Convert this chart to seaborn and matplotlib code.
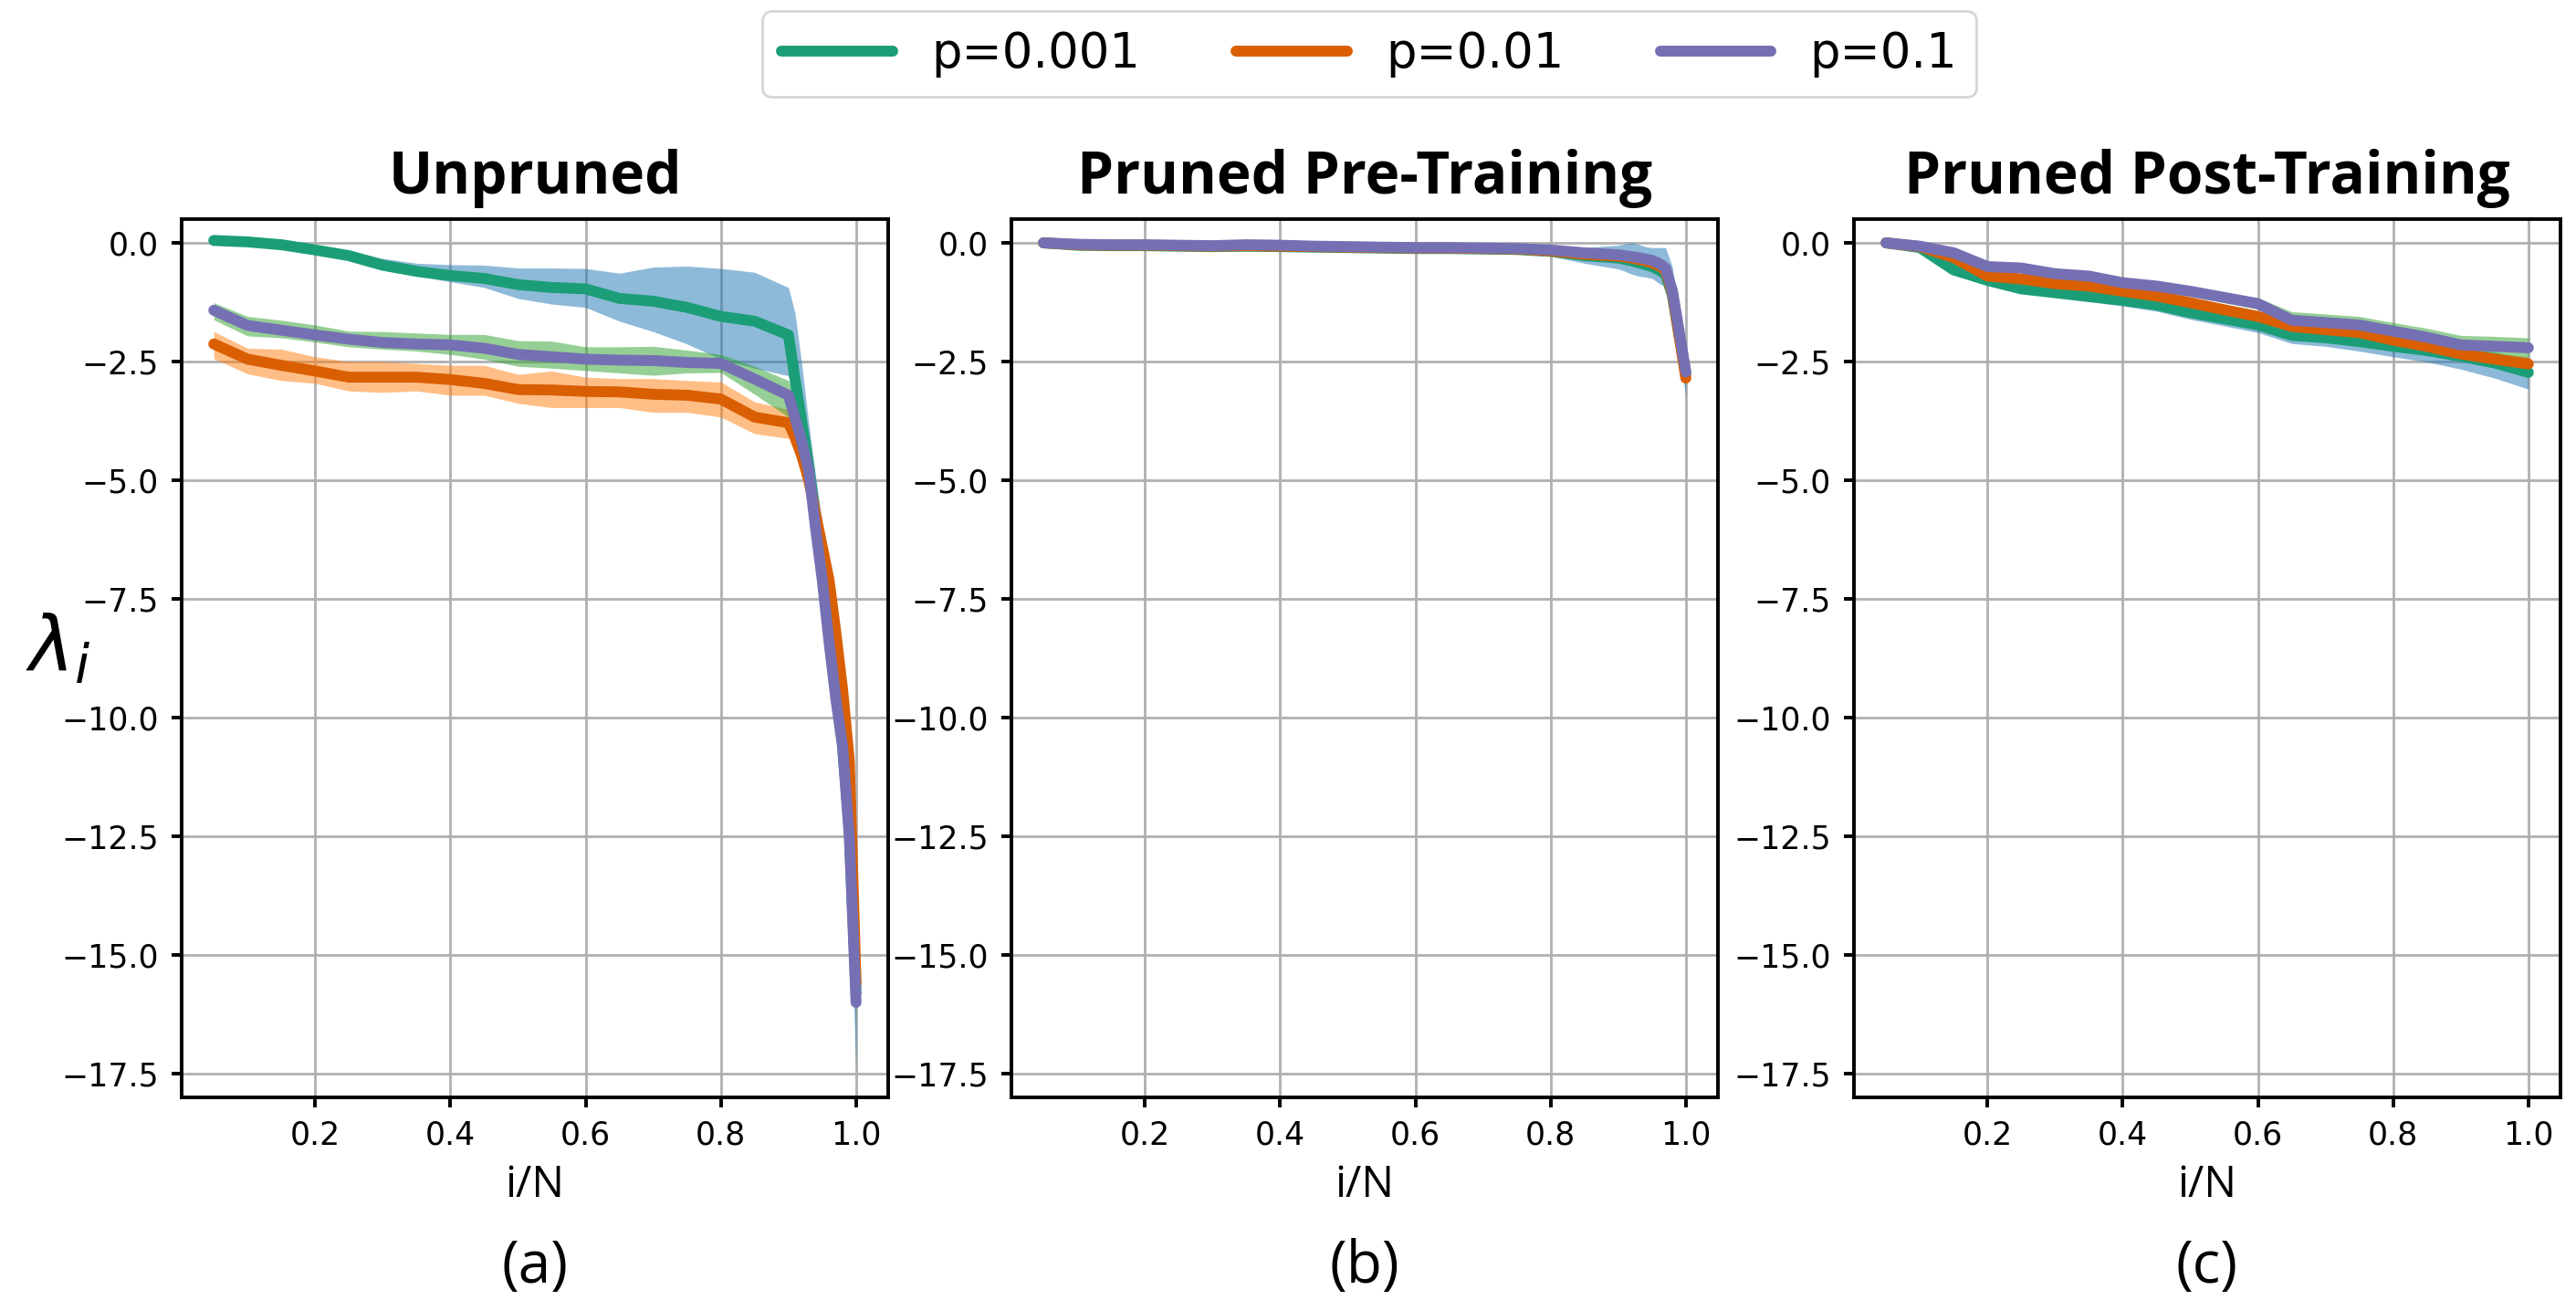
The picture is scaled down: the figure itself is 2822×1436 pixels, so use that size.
import matplotlib
matplotlib.use("Agg")
import matplotlib.pyplot as plt
from matplotlib.ticker import MultipleLocator
import seaborn as sns

# x positions (i/N); panels (a) and (b) are sampled densely near the end
x_dense = [0.05, 0.10, 0.15, 0.20, 0.25, 0.30, 0.35, 0.40, 0.45, 0.50, 0.55, 0.60, 0.65, 0.70,
           0.75, 0.80, 0.85, 0.90, 0.91, 0.92, 0.93, 0.94, 0.95, 0.96, 0.97, 0.98, 0.99, 1.00]
x_coarse = [0.05, 0.10, 0.15, 0.20, 0.25, 0.30, 0.35, 0.40, 0.45, 0.50, 0.55, 0.60, 0.65, 0.70,
            0.75, 0.80, 0.85, 0.90, 0.95, 1.00]

labels = ["p=0.001", "p=0.01", "p=0.1"]
titles = ["Unpruned", "Pruned Pre-Training", "Pruned Post-Training"]
panel_tags = ["(a)", "(b)", "(c)"]

# ---- (a) Unpruned ----
a_p001 = [0.05, 0.02, -0.04, -0.15, -0.27, -0.47, -0.60, -0.69, -0.75, -0.88, -0.94, -0.97, -1.17, -1.23,
          -1.36, -1.55, -1.65, -1.94, -2.90, -3.80, -4.70, -5.80, -7.00, -8.20, -9.40, -10.60, -12.40, -15.80]
a_p001_lo = [0.00, -0.03, -0.10, -0.22, -0.38, -0.58, -0.70, -0.82, -0.94, -1.17, -1.29, -1.36, -1.65, -1.87,
             -2.13, -2.45, -2.64, -2.80, -3.40, -4.30, -5.20, -6.40, -7.60, -8.90, -10.10, -11.30, -13.00, -17.50]
a_p001_hi = [0.08, 0.05, 0.00, -0.10, -0.16, -0.33, -0.43, -0.46, -0.47, -0.53, -0.53, -0.54, -0.64, -0.51,
             -0.49, -0.54, -0.62, -0.94, -1.50, -2.60, -3.80, -4.90, -5.90, -7.00, -8.00, -9.10, -10.30, -15.30]

a_p01 = [-2.13, -2.45, -2.58, -2.70, -2.83, -2.83, -2.83, -2.88, -2.96, -3.09, -3.10, -3.13, -3.14, -3.19,
         -3.21, -3.29, -3.67, -3.79, -4.10, -4.50, -5.00, -5.70, -6.40, -7.10, -8.20, -9.40, -10.90, -15.60]
a_p01_lo = [-2.44, -2.76, -2.90, -2.96, -3.12, -3.15, -3.12, -3.21, -3.21, -3.38, -3.47, -3.47, -3.47, -3.57,
            -3.57, -3.67, -4.02, -4.12, -4.45, -4.85, -5.35, -6.05, -6.75, -7.45, -8.55, -9.75, -11.30, -16.00]
a_p01_hi = [-1.87, -2.22, -2.24, -2.40, -2.50, -2.50, -2.54, -2.58, -2.58, -2.77, -2.70, -2.83, -2.86, -2.86,
            -2.90, -2.93, -3.35, -3.51, -3.80, -4.20, -4.70, -5.40, -6.10, -6.80, -7.90, -9.00, -10.50, -15.20]

a_p1 = [-1.42, -1.74, -1.84, -1.94, -2.03, -2.10, -2.13, -2.15, -2.22, -2.35, -2.40, -2.45, -2.47, -2.48,
        -2.52, -2.54, -2.87, -3.21, -3.70, -4.20, -4.80, -6.00, -7.10, -8.40, -9.60, -10.60, -12.50, -16.00]
a_p1_lo = [-1.62, -1.96, -2.00, -2.09, -2.19, -2.24, -2.28, -2.35, -2.45, -2.60, -2.64, -2.69, -2.74, -2.79,
           -2.74, -2.73, -3.19, -3.67, -4.10, -4.60, -5.20, -6.40, -7.50, -8.80, -10.00, -11.00, -12.90, -16.40]
a_p1_hi = [-1.26, -1.55, -1.63, -1.73, -1.86, -1.87, -1.90, -1.93, -1.93, -2.06, -2.07, -2.19, -2.19, -2.18,
           -2.26, -2.35, -2.60, -2.90, -3.30, -3.80, -4.40, -5.60, -6.70, -8.00, -9.20, -10.20, -12.10, -15.60]

# ---- (b) Pruned Pre-Training ----
b_p001 = [0.00, -0.05, -0.06, -0.06, -0.07, -0.08, -0.07, -0.08, -0.09, -0.10, -0.11, -0.12, -0.12, -0.13,
          -0.14, -0.18, -0.27, -0.32, -0.35, -0.38, -0.42, -0.46, -0.50, -0.57, -0.66, -1.10, -1.95, -2.75]
b_p001_lo = [-0.03, -0.08, -0.09, -0.09, -0.10, -0.11, -0.10, -0.11, -0.12, -0.14, -0.15, -0.17, -0.18, -0.20,
             -0.22, -0.28, -0.43, -0.55, -0.60, -0.66, -0.70, -0.72, -0.75, -0.85, -0.93, -1.50, -2.30, -3.25]
b_p001_hi = [0.03, -0.02, -0.03, -0.03, -0.04, -0.05, -0.04, -0.05, -0.06, -0.06, -0.07, -0.07, -0.06, -0.07,
             -0.07, -0.08, -0.10, -0.05, -0.02, 0.00, -0.03, -0.08, -0.10, -0.10, -0.10, -0.50, -1.50, -2.50]

b_p01 = [0.00, -0.04, -0.05, -0.05, -0.06, -0.07, -0.06, -0.07, -0.08, -0.09, -0.10, -0.11, -0.11, -0.12,
         -0.13, -0.17, -0.24, -0.28, -0.30, -0.32, -0.35, -0.38, -0.42, -0.48, -0.58, -1.05, -1.95, -2.85]
b_p01_lo = [-0.03, -0.07, -0.08, -0.08, -0.09, -0.10, -0.09, -0.10, -0.11, -0.12, -0.13, -0.14, -0.14, -0.15,
            -0.17, -0.22, -0.30, -0.36, -0.38, -0.40, -0.44, -0.48, -0.53, -0.60, -0.70, -1.20, -2.10, -2.95]
b_p01_hi = [0.03, -0.01, -0.02, -0.02, -0.03, -0.04, -0.03, -0.04, -0.05, -0.06, -0.07, -0.08, -0.08, -0.09,
            -0.09, -0.12, -0.18, -0.20, -0.22, -0.24, -0.26, -0.28, -0.31, -0.36, -0.46, -0.90, -1.80, -2.75]

b_p1 = [0.00, -0.03, -0.04, -0.04, -0.05, -0.06, -0.04, -0.05, -0.07, -0.08, -0.09, -0.10, -0.10, -0.11,
        -0.12, -0.15, -0.21, -0.25, -0.27, -0.29, -0.31, -0.34, -0.37, -0.43, -0.53, -1.00, -1.85, -2.72]
b_p1_lo = [-0.03, -0.06, -0.07, -0.07, -0.08, -0.09, -0.07, -0.08, -0.10, -0.11, -0.12, -0.13, -0.13, -0.14,
           -0.16, -0.20, -0.28, -0.33, -0.36, -0.38, -0.41, -0.45, -0.49, -0.56, -0.66, -1.15, -2.00, -2.85]
b_p1_hi = [0.03, 0.00, -0.01, -0.01, -0.02, -0.03, -0.01, -0.02, -0.04, -0.05, -0.06, -0.07, -0.07, -0.08,
           -0.08, -0.10, -0.14, -0.17, -0.18, -0.20, -0.21, -0.22, -0.25, -0.30, -0.38, -0.85, -1.70, -2.60]

# ---- (c) Pruned Post-Training ----
c_p001 = [0.00, -0.10, -0.57, -0.79, -0.97, -1.05, -1.13, -1.21, -1.31, -1.47, -1.60, -1.73, -1.95, -2.00,
          -2.08, -2.18, -2.27, -2.39, -2.53, -2.73]
c_p001_lo = [-0.03, -0.14, -0.63, -0.87, -1.06, -1.15, -1.24, -1.33, -1.44, -1.61, -1.75, -1.89, -2.12, -2.18,
             -2.28, -2.40, -2.51, -2.66, -2.85, -3.08]
c_p001_hi = [0.03, -0.06, -0.50, -0.72, -0.90, -0.98, -1.05, -1.12, -1.20, -1.35, -1.47, -1.60, -1.80, -1.85,
             -1.92, -2.02, -2.10, -2.20, -2.30, -2.45]

c_p01 = [0.00, -0.08, -0.31, -0.70, -0.76, -0.86, -0.91, -1.02, -1.12, -1.26, -1.41, -1.55, -1.76, -1.83,
         -1.89, -2.05, -2.18, -2.34, -2.45, -2.55]
c_p01_lo = [-0.03, -0.12, -0.37, -0.76, -0.83, -0.93, -0.99, -1.10, -1.20, -1.34, -1.50, -1.64, -1.85, -1.93,
            -2.00, -2.16, -2.30, -2.46, -2.58, -2.70]
c_p01_hi = [0.03, -0.04, -0.25, -0.64, -0.69, -0.79, -0.83, -0.94, -1.04, -1.18, -1.32, -1.46, -1.67, -1.73,
            -1.78, -1.94, -2.06, -2.22, -2.32, -2.40]

c_p1 = [0.00, -0.07, -0.21, -0.50, -0.53, -0.65, -0.70, -0.84, -0.91, -1.02, -1.15, -1.28, -1.63, -1.68,
        -1.73, -1.86, -1.99, -2.15, -2.18, -2.21]
c_p1_lo = [-0.03, -0.11, -0.27, -0.57, -0.61, -0.73, -0.79, -0.93, -1.01, -1.12, -1.26, -1.40, -1.76, -1.82,
           -1.88, -2.02, -2.16, -2.33, -2.38, -2.42]
c_p1_hi = [0.03, -0.03, -0.15, -0.43, -0.45, -0.57, -0.61, -0.75, -0.81, -0.92, -1.04, -1.16, -1.45, -1.50,
           -1.55, -1.68, -1.80, -1.95, -1.97, -2.00]

panels = [
    (x_dense, [(a_p001, a_p001_lo, a_p001_hi), (a_p01, a_p01_lo, a_p01_hi), (a_p1, a_p1_lo, a_p1_hi)]),
    (x_dense, [(b_p001, b_p001_lo, b_p001_hi), (b_p01, b_p01_lo, b_p01_hi), (b_p1, b_p1_lo, b_p1_hi)]),
    (x_coarse, [(c_p001, c_p001_lo, c_p001_hi), (c_p01, c_p01_lo, c_p01_hi), (c_p1, c_p1_lo, c_p1_hi)]),
]

sns.set_theme(style="ticks", rc={"text.color": "black", "axes.labelcolor": "black",
                                 "xtick.color": "black", "ytick.color": "black"})
plt.rcParams['font.family'] = ['DejaVu Sans']

line_colors = sns.color_palette("Dark2")[:3]
band_colors = sns.color_palette("tab10")[:3]

W, H = 2822, 1436
fig, axes = plt.subplots(1, 3, figsize=(W / 200, H / 200), dpi=200)

lefts = [199, 1108, 2031]
ax_w, ax_top, ax_bot = 774, 240, 1202

for i, ax in enumerate(axes):
    ax.set_position([lefts[i] / W, 1 - ax_bot / H, ax_w / W, (ax_bot - ax_top) / H])
    xs, series = panels[i]
    for j, (mean, lo, hi) in enumerate(series):
        ax.fill_between(xs, lo, hi, color=band_colors[j], alpha=0.5, linewidth=0, zorder=2)
    for j, (mean, lo, hi) in enumerate(series):
        sns.lineplot(x=xs, y=mean, ax=ax, color=line_colors[j], linewidth=4.3,
                     label=labels[j], legend=False, zorder=3)

    ax.set_ylim(-18.0, 0.5)
    ax.set_xlim(0.0025, 1.0475)
    ax.yaxis.set_major_locator(MultipleLocator(2.5))
    ax.xaxis.set_major_locator(MultipleLocator(0.2))
    ax.grid(True, color='#b0b0b0', linewidth=1.0)
    ax.set_axisbelow(True)
    for s in ax.spines.values():
        s.set_linewidth(1.4)
        s.set_color('black')
    ax.tick_params(axis='both', labelsize=12.5, width=1.4, length=4, pad=5, color='black')

    ax.set_title(titles[i], fontsize=23, fontweight='bold', family='Open Sans', pad=10, color='black')
    ax.set_xlabel("i/N", fontsize=17, family='Open Sans', labelpad=5)
    ax.text(0.5, -0.193, panel_tags[i], transform=ax.transAxes, ha='center', va='center',
            fontsize=23, family='Open Sans')

axes[0].set_ylabel(r'$\lambda_i$', fontsize=30, rotation=0, ha='center', va='center')
axes[0].yaxis.set_label_coords(-0.175, 0.51)

handles = axes[0].get_lines()[:3]
fig.legend(handles, labels, loc='upper center', bbox_to_anchor=(1500 / W, 1 - 12 / H),
           borderaxespad=0, ncol=3, fontsize=19, handlelength=2.3, frameon=True)

fig.savefig("out.png", dpi=200)
